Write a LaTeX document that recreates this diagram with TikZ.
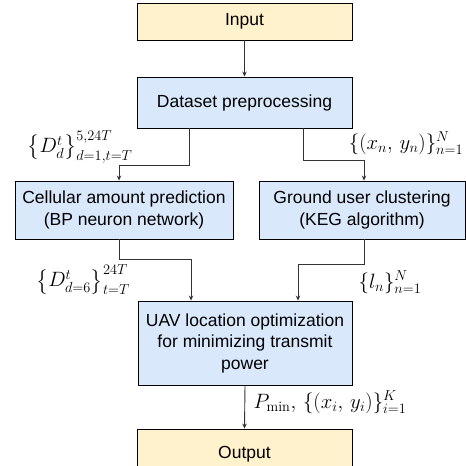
\documentclass[tikz,border=0pt]{standalone}
\usepackage{fontspec}
\usepackage{amsmath}
\newfontfamily\boxfont{Liberation Sans}
\usetikzlibrary{arrows.meta}
\definecolor{yfill}{HTML}{FFF2CC}
\definecolor{bfill}{HTML}{DAE8FC}
\definecolor{lgray}{HTML}{333333}
\tikzset{
  boxbase/.style={draw=black, line width=0.9pt, inner sep=0pt, align=center,
    font=\boxfont\fontsize{17.5}{21.5}\selectfont},
  ybox/.style={boxbase, fill=yfill},
  bbox/.style={boxbase, fill=bfill},
  conn/.style={draw=lgray, line width=0.9pt, -{Stealth[length=5pt,width=4.5pt]}},
  mlabel/.style={inner sep=0pt, font=\fontsize{20.5}{24}\selectfont}
}
\begin{document}
\begin{tikzpicture}[x=1pt,y=-1pt]
\useasboundingbox (0,0) rectangle (466,466);
\clip (0,0) rectangle (466,466);
\node[ybox, minimum width=215pt, minimum height=37pt] (in) at (244.5,21.5) {Input};
\node[bbox, minimum width=215pt, minimum height=51pt] (ds) at (244.5,102.5) {Dataset preprocessing};
\node[bbox, minimum width=218pt, minimum height=58pt] (cell) at (124,210) {Cellular amount prediction\\(BP neuron network)};
\node[bbox, minimum width=206pt, minimum height=58pt] (gr) at (362,210) {Ground user clustering\\(KEG algorithm)};
\node[bbox, minimum width=214pt, minimum height=84pt] (uav) at (245,343) {UAV location optimization\\for minimizing transmit\\power};
\node[ybox, minimum width=215pt, minimum height=50pt] (out) at (244.5,454) {Output};

\draw[conn] (in.south) -- (ds.north);
\draw[conn] ([xshift=-55.5pt]ds.south) -- ++(0,37) -| ([xshift=-5pt]cell.north);
\draw[conn] ([xshift=58.5pt]ds.south) -- ++(0,32) -| ([xshift=2pt]gr.north);
\draw[conn] ([xshift=-5pt]cell.south) -- ++(0,20) -| ([xshift=-54pt]uav.north);
\draw[conn] ([xshift=2pt]gr.south) -- ++(0,25) -| ([xshift=53pt]uav.north);
\draw[conn] (uav.south) -- (out.north);

\node[mlabel] (l1) at (80,147) {$\bigl\{D_d^t\bigr\}_{d=1,t=T}^{5,24T}$};
\node[mlabel] (l2) at (406,143) {$\{(x_n,\,y_n)\}_{n=1}^{N}$};
\node[mlabel] (l3) at (83,280) {$\bigl\{D_{d=6}^t\bigr\}_{t=T}^{24T}$};
\node[mlabel] (l4) at (390,282) {$\{l_n\}_{n=1}^{N}$};
\node[mlabel] (l5) at (330,402) {$P_{\min},\,\{(x_i,\,y_i)\}_{i=1}^{K}$};
\end{tikzpicture}
\end{document}
